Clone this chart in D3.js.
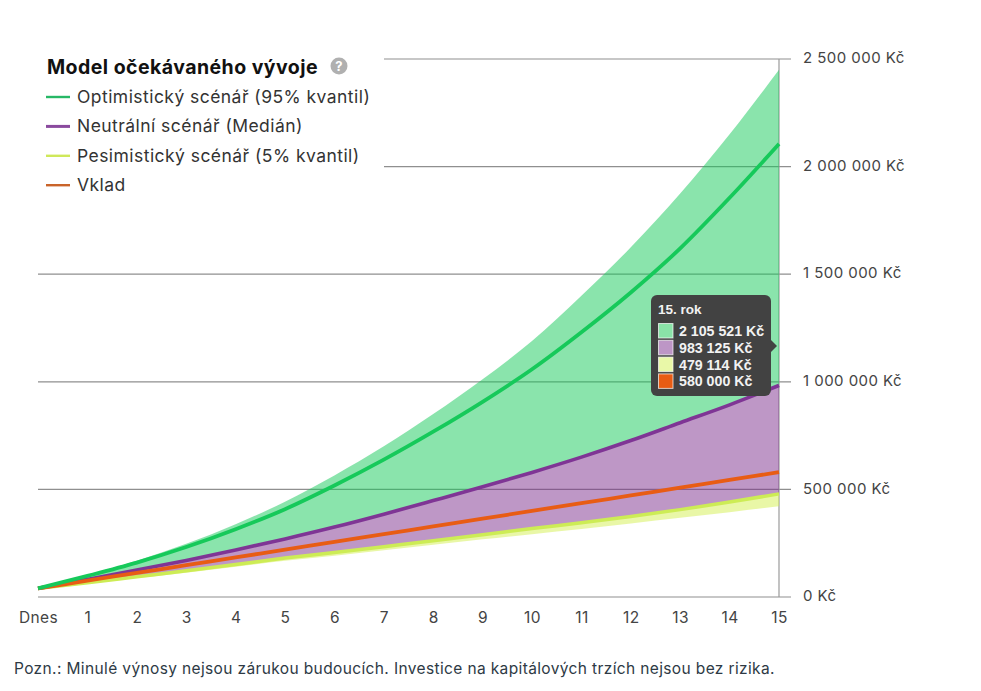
<!DOCTYPE html>
<html lang="cs"><head><meta charset="utf-8">
<script src="https://cdn.jsdelivr.net/npm/d3@7/dist/d3.min.js"></script>
<style>html,body{margin:0;padding:0;background:#fff}svg{display:block}</style>
</head><body><div id="chart"></div>
<script>
const years = [0,1,2,3,4,5,6,7,8,9,10,11,12,13,14,15];
const xTickLabels = ["Dnes","1","2","3","4","5","6","7","8","9","10","11","12","13","14","15"];
const yTicks = [0,500000,1000000,1500000,2000000,2500000];
const upperBand = [40000,102000,168000,247000,338000,443000,565000,700000,850000,1012000,1190000,1400000,1625000,1875000,2150000,2450000];
const optimistic = [40000,98000,160000,232000,315000,408000,518000,638000,768000,907000,1058000,1230000,1415000,1620000,1855000,2105521];
const neutral = [40000,82000,125000,170000,218000,270000,325000,385000,448000,512000,579000,650000,727000,810000,893000,983125];
const pessimistic = [40000,66000,94000,122000,151000,181000,207000,234000,261000,289000,318000,345000,374000,406000,441000,479114];
const lowerBand = [40000,64000,88000,113000,140000,168000,192000,217000,243000,268000,292000,316000,342000,368000,394000,422000];
const deposit = [40000,76000,112000,148000,184000,220000,256000,292000,328000,364000,400000,436000,472000,508000,544000,580000];
const legendItems = ["Optimistický scénář (95% kvantil)","Neutrální scénář (Medián)","Pesimistický scénář (5% kvantil)","Vklad"];
const legendColors = ["#27b866","#8a4a9e","#cfe85a","#c9642a"];
const tooltipValues = ["2 105 521 Kč","983 125 Kč","479 114 Kč","580 000 Kč"];
const tooltipSwatches = ["#8ae3a8","#bd96c6","#e9f8a8","#e85c14"];
const FONT = "Inter, 'Open Sans', sans-serif";
const svg = d3.select("#chart").append("svg").attr("width",981).attr("height",691);
const x = d3.scaleLinear().domain([0,15]).range([38,779]);
const y = d3.scaleLinear().domain([0,2500000]).range([597,59]);
const fmt = v => String(v).replace(/\B(?=(\d{3})+$)/g," ") + " Kč";
const yAxis = d3.axisRight(y).tickValues(yTicks).tickSize(0).tickFormat(fmt);
svg.append("g").selectAll("line").data(yTicks).join("line")
  .attr("x1",d=>d>=2000000?384:38).attr("x2",791).attr("y1",d=>y(d)).attr("y2",d=>y(d))
  .attr("stroke","#8f8f8f").attr("stroke-width",1.2);
svg.append("line").attr("x1",x(15)).attr("x2",x(15)).attr("y1",59).attr("y2",597).attr("stroke","#9a9a9a").attr("stroke-width",1.2);
const area = (a,b)=>d3.area().x((d,i)=>x(years[i])).y0((d,i)=>y(b[i])).y1((d,i)=>y(a[i])).curve(d3.curveMonotoneX)(years);
const line = a=>d3.line().x((d,i)=>x(years[i])).y((d,i)=>y(a[i])).curve(d3.curveMonotoneX)(years);
svg.append("path").attr("d",area(upperBand,neutral)).attr("fill","#16c95a").attr("fill-opacity",.5);
svg.append("path").attr("d",area(neutral,pessimistic)).attr("fill","#7d2f8e").attr("fill-opacity",.5);
svg.append("path").attr("d",area(pessimistic,lowerBand)).attr("fill","#d3f04f").attr("fill-opacity",.5);
[[pessimistic,"#cdec55",3.5],[neutral,"#7f3595",3.6],[deposit,"#e85c14",3.8],[optimistic,"#16c95a",3.8]].forEach(([a,c,w])=>
  svg.append("path").attr("d",line(a)).attr("fill","none").attr("stroke",c).attr("stroke-width",w));
const ya = svg.append("g").attr("transform","translate(803,0)").call(yAxis);
ya.select(".domain").remove();
ya.selectAll("text").attr("x",0).attr("dy","0.25em").attr("fill","#444").attr("font-family",FONT).attr("font-size",15).attr("letter-spacing",.45);
const xa = svg.append("g").attr("transform","translate(0,612)").call(d3.axisBottom(x).tickValues(years).tickSize(0).tickFormat((d,i)=>xTickLabels[i]));
xa.select(".domain").remove();
xa.selectAll("text").attr("y",0).attr("dy","0.71em").attr("fill","#444").attr("font-family",FONT).attr("font-size",15.5).attr("letter-spacing",.4);
svg.append("text").attr("x",47).attr("y",74).attr("font-family",FONT).attr("font-weight",700).attr("font-size",19.5).attr("letter-spacing",.45).attr("fill","#111").text("Model očekávaného vývoje");
svg.append("circle").attr("cx",339).attr("cy",66).attr("r",8.5).attr("fill","#b0b0b0");
svg.append("text").attr("x",339).attr("y",71).attr("text-anchor","middle").attr("font-family",FONT).attr("font-weight",700).attr("font-size",13).attr("fill","#fff").text("?");
const lg = svg.append("g").selectAll("g").data(legendItems).join("g").attr("transform",(d,i)=>`translate(0,${97+i*29.4})`);
lg.append("line").attr("x1",46).attr("x2",70).attr("stroke",(d,i)=>legendColors[i]).attr("stroke-width",(d,i)=>i==1?3:2.4);
lg.append("text").attr("x",77).attr("y",6).attr("font-family",FONT).attr("font-size",17.5).attr("letter-spacing",.45).attr("fill","#333").text(d=>d);
svg.append("text").attr("x",14).attr("y",674).attr("font-family",FONT).attr("font-size",15.5).attr("letter-spacing",.37).attr("fill","#2e3a45").text("Pozn.: Minulé výnosy nejsou zárukou budoucích. Investice na kapitálových trzích nejsou bez rizika.");
const tt = svg.append("g");
tt.append("rect").attr("x",651).attr("y",295).attr("width",120).attr("height",101).attr("rx",6).attr("fill","#424242");
tt.append("path").attr("d","M771 340l6 6l-6 6z").attr("fill","#424242");
tt.append("text").attr("x",658).attr("y",314).attr("font-family","'Liberation Sans',Arial,sans-serif").attr("font-weight",700).attr("font-size",13.5).attr("fill","#f2f2f2").text("15. rok");
const row = tt.selectAll("g").data(tooltipValues).join("g").attr("transform",(d,i)=>`translate(0,${323.5+i*16.8})`);
row.append("rect").attr("x",658.5).attr("width",14.5).attr("height",14.5).attr("fill",(d,i)=>tooltipSwatches[i]).attr("stroke","#fff").attr("stroke-opacity",.7);
row.append("text").attr("x",679).attr("y",12.5).attr("font-family","'Liberation Sans',Arial,sans-serif").attr("font-weight",700).attr("font-size",14.2).attr("fill","#f2f2f2").text(d=>d);
</script></body></html>
